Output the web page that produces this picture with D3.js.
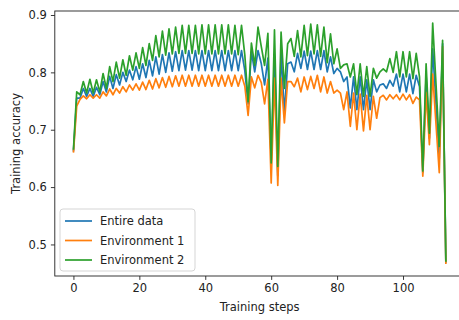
<!DOCTYPE html>
<html>
<head>
<meta charset="utf-8">
<script src="https://cdn.jsdelivr.net/npm/d3@7"></script>
<style>
    body { margin: 0; background: #fff; }
    svg { display: block; font-family: 'DejaVu Sans', sans-serif; }
</style>
</head>
<body>
<div id="line-chart"></div>
<script>
// Data
const seriesNames = ['Entire data', 'Environment 1', 'Environment 2'];
const seriesColors = ['#1f77b4', '#ff7f0e', '#2ca02c'];

const entireData = [
    0.662, 0.755, 0.755, 0.772, 0.758, 0.772, 0.758, 0.774, 0.761, 0.784,
    0.766, 0.793, 0.772, 0.796, 0.778, 0.800, 0.784, 0.804, 0.787, 0.810,
    0.788, 0.815, 0.791, 0.821, 0.794, 0.827, 0.797, 0.831, 0.800, 0.834,
    0.802, 0.836, 0.803, 0.838, 0.804, 0.838, 0.804, 0.838, 0.803, 0.838,
    0.803, 0.838, 0.803, 0.838, 0.803, 0.838, 0.803, 0.838, 0.803, 0.838,
    0.803, 0.838, 0.803, 0.745, 0.836, 0.801, 0.838, 0.815, 0.778, 0.825,
    0.645, 0.830, 0.620, 0.835, 0.730, 0.815, 0.818, 0.801, 0.833, 0.807,
    0.837, 0.805, 0.837, 0.805, 0.838, 0.805, 0.838, 0.801, 0.827, 0.798,
    0.807, 0.801, 0.784, 0.792, 0.738, 0.792, 0.735, 0.792, 0.735, 0.787,
    0.735, 0.787, 0.766, 0.778, 0.780, 0.772, 0.786, 0.776, 0.797, 0.766,
    0.797, 0.766, 0.797, 0.763, 0.795, 0.775, 0.625, 0.795, 0.685, 0.841,
    0.745, 0.650, 0.850, 0.468
];

const environment1 = [
    0.660, 0.741, 0.753, 0.759, 0.754, 0.761, 0.755, 0.761, 0.755, 0.766,
    0.759, 0.771, 0.761, 0.772, 0.764, 0.775, 0.766, 0.778, 0.769, 0.780,
    0.769, 0.783, 0.770, 0.786, 0.771, 0.789, 0.773, 0.791, 0.774, 0.793,
    0.775, 0.794, 0.776, 0.795, 0.776, 0.795, 0.776, 0.795, 0.776, 0.795,
    0.776, 0.795, 0.776, 0.795, 0.776, 0.795, 0.776, 0.795, 0.776, 0.795,
    0.776, 0.795, 0.776, 0.725, 0.792, 0.773, 0.795, 0.782, 0.745, 0.788,
    0.607, 0.790, 0.603, 0.790, 0.712, 0.784, 0.784, 0.775, 0.790, 0.766,
    0.792, 0.770, 0.793, 0.772, 0.795, 0.766, 0.792, 0.764, 0.784, 0.764,
    0.769, 0.764, 0.735, 0.766, 0.706, 0.764, 0.700, 0.762, 0.698, 0.760,
    0.700, 0.758, 0.720, 0.756, 0.760, 0.752, 0.761, 0.754, 0.761, 0.752,
    0.762, 0.752, 0.761, 0.746, 0.757, 0.752, 0.619, 0.765, 0.674, 0.797,
    0.710, 0.625, 0.845, 0.466
];

const environment2 = [
    0.665, 0.766, 0.761, 0.784, 0.764, 0.788, 0.764, 0.787, 0.766, 0.798,
    0.772, 0.810, 0.784, 0.818, 0.790, 0.822, 0.795, 0.829, 0.804, 0.834,
    0.807, 0.843, 0.812, 0.850, 0.821, 0.864, 0.827, 0.872, 0.830, 0.876,
    0.832, 0.879, 0.833, 0.882, 0.833, 0.882, 0.833, 0.882, 0.832, 0.883,
    0.832, 0.883, 0.832, 0.883, 0.832, 0.883, 0.832, 0.883, 0.832, 0.882,
    0.831, 0.882, 0.830, 0.749, 0.851, 0.812, 0.879, 0.845, 0.812, 0.868,
    0.642, 0.874, 0.636, 0.870, 0.772, 0.850, 0.859, 0.828, 0.873, 0.827,
    0.882, 0.829, 0.884, 0.832, 0.883, 0.828, 0.879, 0.817, 0.867, 0.815,
    0.841, 0.807, 0.813, 0.815, 0.792, 0.815, 0.761, 0.815, 0.758, 0.810,
    0.758, 0.807, 0.790, 0.801, 0.806, 0.801, 0.824, 0.800, 0.836, 0.792,
    0.836, 0.792, 0.836, 0.789, 0.833, 0.792, 0.628, 0.815, 0.694, 0.886,
    0.780, 0.671, 0.856, 0.470
];

const xTicks = [0, 20, 40, 60, 80, 100];
const yTicks = [0.5, 0.6, 0.7, 0.8, 0.9];

// Chart
const width = 459;
const height = 320;
const margin = { top: 11, right: -5.5, bottom: 44, left: 54.8 };
const fontSize = 11.5;

const series = [entireData, environment1, environment2];
const steps = d3.range(entireData.length);

const xMax = steps[steps.length - 1];
const xPad = xMax * 0.05;
const xScale = d3.scaleLinear()
    .domain([-xPad, xMax + xPad])
    .range([margin.left, width - margin.right]);

const yMin = d3.min(series, s => d3.min(s));
const yMax = d3.max(series, s => d3.max(s));
const yPad = (yMax - yMin) * 0.05;
const yScale = d3.scaleLinear()
    .domain([yMin - yPad, yMax + yPad])
    .range([height - margin.bottom, margin.top]);

const svg = d3.select('#line-chart')
    .append('svg')
    .attr('width', width)
    .attr('height', height);

// lines
const line = d3.line()
    .x((d, i) => xScale(steps[i]))
    .y(d => yScale(d));

series.forEach((s, i) => {
    svg.append('path')
        .attr('fill', 'none')
        .attr('stroke', seriesColors[i])
        .attr('stroke-width', 1.7)
        .attr('stroke-linejoin', 'round')
        .attr('d', line(s));
});

// frame
svg.append('rect')
    .attr('x', margin.left)
    .attr('y', margin.top)
    .attr('width', width - margin.right - margin.left)
    .attr('height', height - margin.bottom - margin.top)
    .attr('fill', 'none')
    .attr('stroke', '#222')
    .attr('stroke-width', 0.9);

// x axis
const xAxis = svg.append('g')
    .attr('transform', 'translate(0,' + (height - margin.bottom) + ')')
    .call(d3.axisBottom(xScale).tickValues(xTicks).tickSize(3.9).tickPadding(4).tickFormat(d3.format('d')));

xAxis.select('.domain').remove();
xAxis.selectAll('line').attr('stroke', '#222').attr('stroke-width', 0.9);
xAxis.selectAll('text')
    .attr('fill', '#222')
    .style('font-size', fontSize + 'px')
    .style('font-family', 'DejaVu Sans');

// y axis
const yAxis = svg.append('g')
    .attr('transform', 'translate(' + margin.left + ',0)')
    .call(d3.axisLeft(yScale).tickValues(yTicks).tickSize(3.9).tickPadding(4).tickFormat(d3.format('.1f')));

yAxis.select('.domain').remove();
yAxis.selectAll('line').attr('stroke', '#222').attr('stroke-width', 0.9);
yAxis.selectAll('text')
    .attr('fill', '#222')
    .style('font-size', fontSize + 'px')
    .style('font-family', 'DejaVu Sans');

// axis labels
svg.append('text')
    .attr('x', (margin.left + width - margin.right) / 2)
    .attr('y', 311)
    .attr('text-anchor', 'middle')
    .attr('fill', '#222')
    .style('font-size', fontSize + 'px')
    .text('Training steps');

svg.append('text')
    .attr('transform', 'translate(20,' + ((margin.top + height - margin.bottom) / 2) + ') rotate(-90)')
    .attr('text-anchor', 'middle')
    .attr('fill', '#222')
    .style('font-size', fontSize + 'px')
    .text('Training accuracy');

// legend
const legend = svg.append('g')
    .attr('transform', 'translate(60,209)');

legend.append('rect')
    .attr('width', 135)
    .attr('height', 62)
    .attr('rx', 3)
    .attr('fill', 'rgba(255,255,255,0.8)')
    .attr('stroke', '#d0d0d0')
    .attr('stroke-width', 0.9);

seriesNames.forEach((name, i) => {
    const row = legend.append('g')
        .attr('transform', 'translate(0,' + (12 + i * 19.5) + ')');
    row.append('line')
        .attr('x1', 5)
        .attr('x2', 32)
        .attr('stroke', seriesColors[i])
        .attr('stroke-width', 1.7);
    row.append('text')
        .attr('x', 40)
        .attr('dy', '0.35em')
        .attr('fill', '#222')
        .style('font-size', fontSize + 'px')
        .text(name);
});
</script>
</body>
</html>
